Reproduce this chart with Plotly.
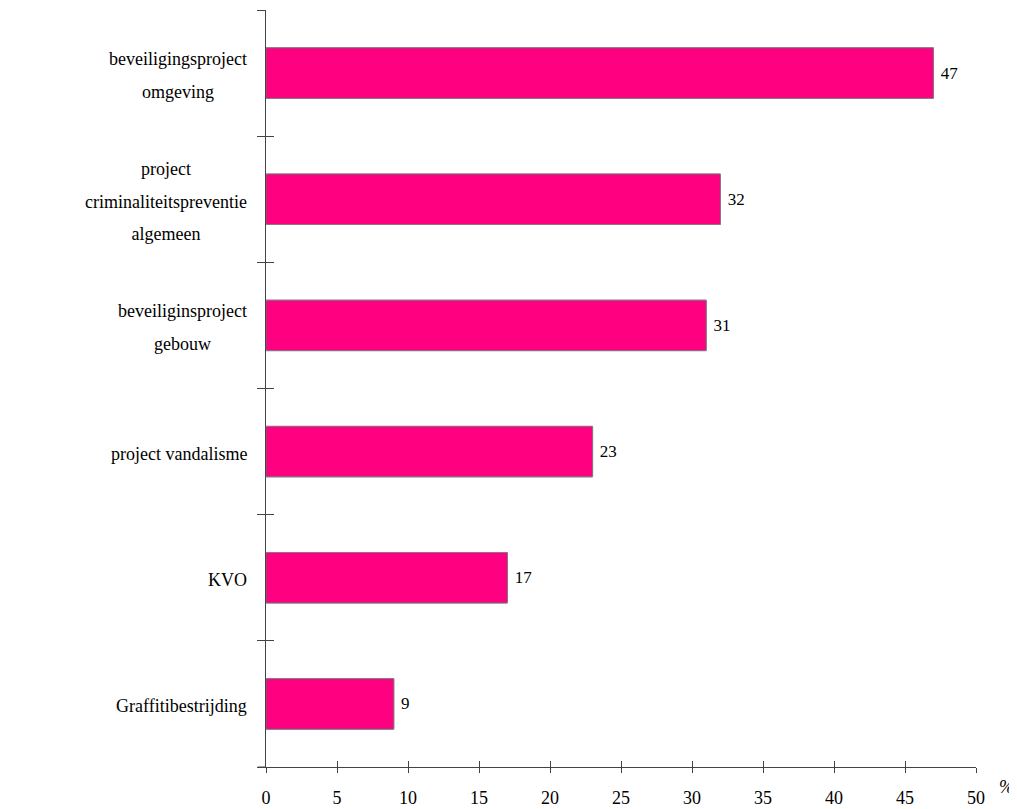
import plotly.graph_objects as go

categories = [
    "beveiligingsproject<br>omgeving",
    "project<br>criminaliteitspreventie<br>algemeen",
    "beveiliginsproject<br>gebouw",
    "project vandalisme",
    "KVO",
    "Graffitibestrijding",
]
values = [47, 32, 31, 23, 17, 9]
x_ticks = [0, 5, 10, 15, 20, 25, 30, 35, 40, 45, 50]

font_family = "Liberation Serif"
axis_color = "#444444"

fig = go.Figure()
fig.add_trace(go.Bar(
    x=values, y=categories, orientation="h",
    marker=dict(color="#FF0080", line=dict(color="#3a0020", width=1)),
    text=[" " + str(v) for v in values], textposition="outside",
    textfont=dict(family=font_family, size=17, color="black"),
    cliponaxis=False, hoverinfo="skip",
))
# invisible copy to drive overlay axes (inside ticks -> crossing ticks)
fig.add_trace(go.Bar(
    x=values, y=categories, orientation="h", xaxis="x2", yaxis="y2",
    marker=dict(color="rgba(0,0,0,0)"), hoverinfo="skip", showlegend=False,
))

cat_order = categories[::-1]

fig.update_layout(
    width=1017, height=809,
    margin=dict(l=258, r=49, t=2, b=50, autoexpand=False),
    plot_bgcolor="white", paper_bgcolor="white",
    showlegend=False, bargap=0.6,
    font=dict(family=font_family, size=17, color="black"),
    xaxis=dict(range=[0, 50], tickvals=x_ticks, ticks="outside", ticklen=5,
               tickcolor=axis_color, showline=True, linecolor=axis_color, linewidth=1,
               showgrid=False, zeroline=False, ticklabelstandoff=9,
               tickfont=dict(family=font_family, size=18, color="black")),
    xaxis2=dict(range=[0, 50], overlaying="x", tickvals=x_ticks, ticks="inside", ticklen=6,
                tickcolor=axis_color, showticklabels=False, showline=False,
                showgrid=False, zeroline=False, side="bottom", anchor="y"),
    yaxis=dict(type="category", categoryorder="array", categoryarray=cat_order,
               tickson="boundaries", ticks="outside", ticklen=8, tickcolor=axis_color,
               showticklabels=False, showline=True, linecolor=axis_color, linewidth=1,
               showgrid=False, zeroline=False),
    yaxis2=dict(type="category", categoryorder="array", categoryarray=cat_order,
                overlaying="y", tickson="boundaries", ticks="inside", ticklen=8,
                tickcolor=axis_color, showticklabels=False, showline=False,
                showgrid=False, zeroline=False, anchor="x", side="left"),
)

annotations = []
for c in categories:
    lines = c.split("<br>")
    styled = "<br>".join('<span style="font-size:18px">' + ln + "</span>" for ln in lines)
    annotations.append(dict(
        x=0, xref="paper", y=c, yref="y", xanchor="right", yanchor="middle",
        xshift=-17, yshift=-2, text=styled, showarrow=False, align="center",
        font=dict(family=font_family, size=25, color="black"),
    ))
annotations.append(dict(
    x=1, xref="paper", y=0, yref="paper", xanchor="left", yanchor="middle",
    xshift=21, yshift=-20, text="<i>%</i>", showarrow=False,
    font=dict(family=font_family, size=18, color="black"),
))
fig.update_layout(annotations=annotations)

fig.add_shape(type="line", xref="paper", yref="paper", x0=-0.0115, x1=0, y0=0, y1=0,
              line=dict(color=axis_color, width=1))

fig.write_html("out.html")
